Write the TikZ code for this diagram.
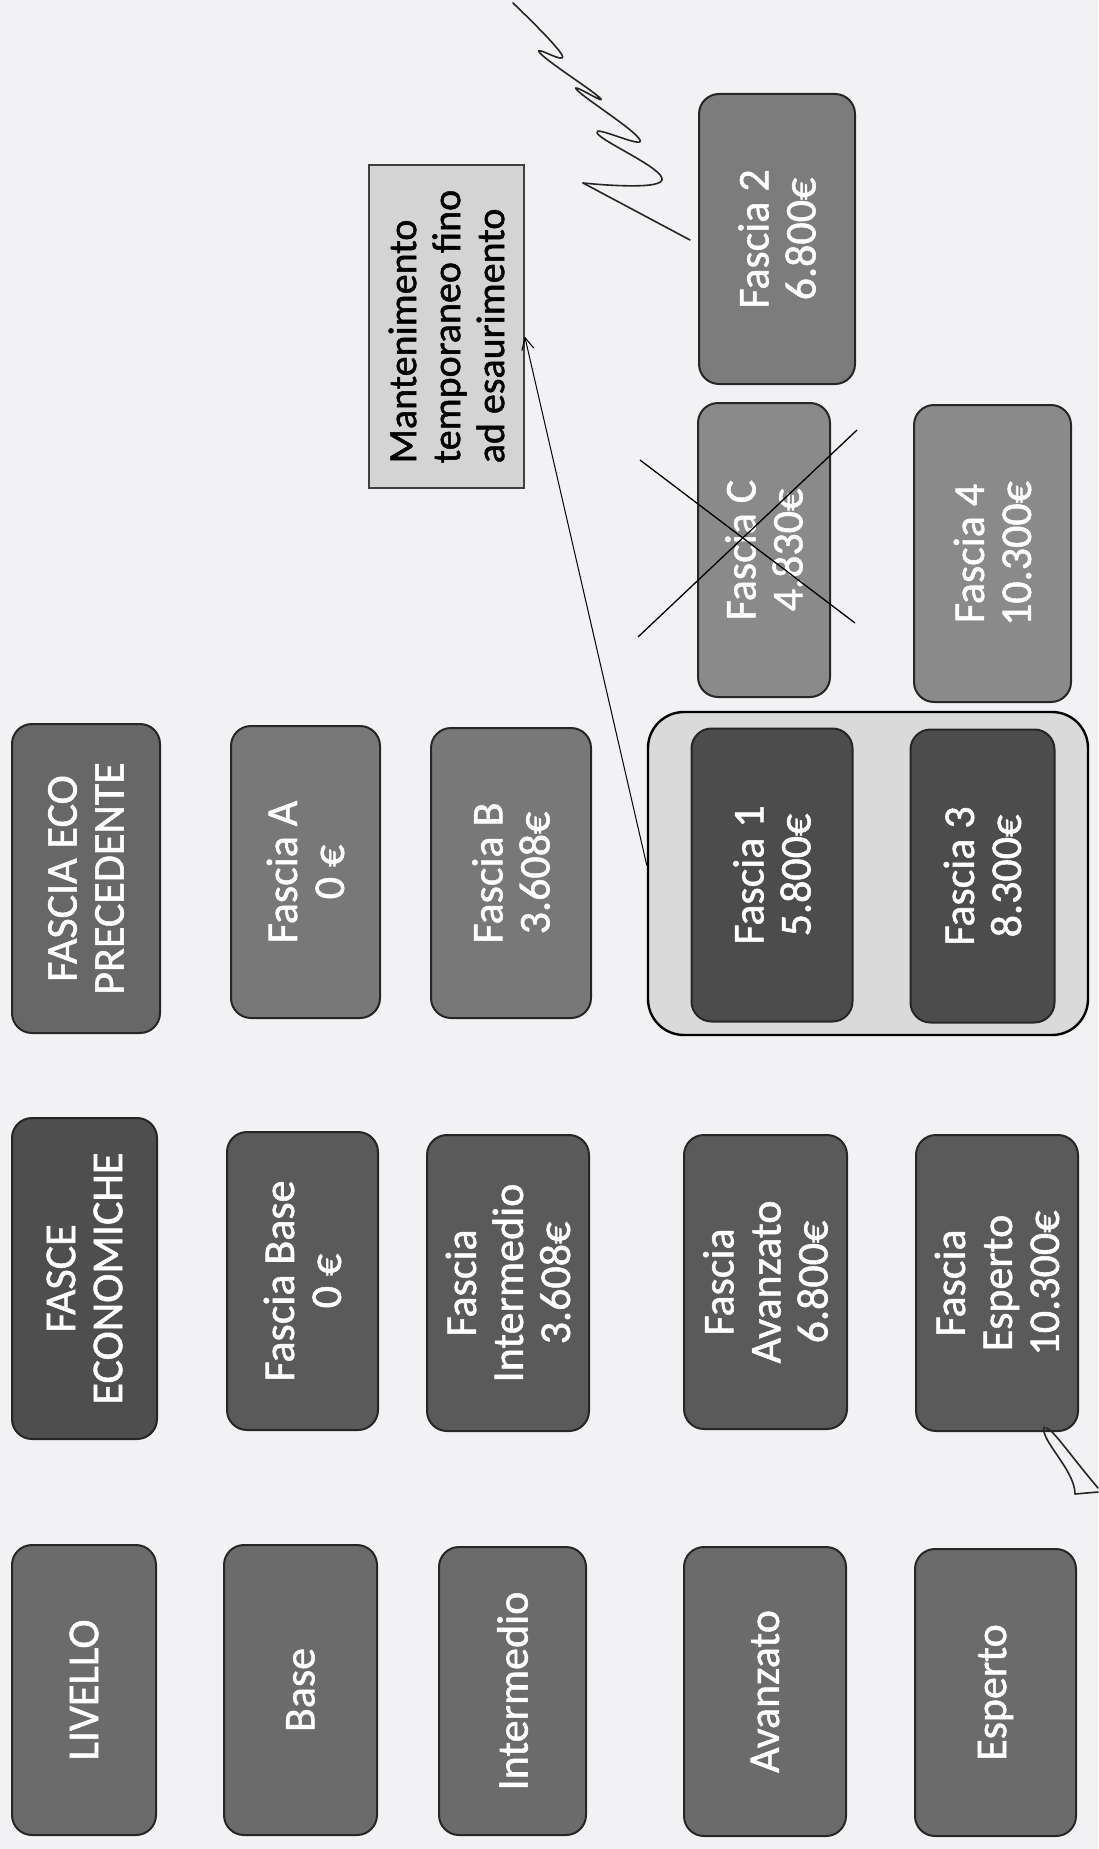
\documentclass[tikz,border=0pt]{standalone}
\usepackage{fontspec}
\setmainfont{Carlito}
\newfontfamily\carlito[RawFeature={embolden=1.2}]{Carlito}
\usetikzlibrary{arrows.meta,calc}
\definecolor{pagebg}{HTML}{F2F2F5}
\definecolor{lvgray}{HTML}{6B6B6B}
\definecolor{hdgray}{HTML}{4E4E4E}
\definecolor{fegray}{HTML}{5A5A5A}
\definecolor{fpgray}{HTML}{676767}
\definecolor{abgray}{HTML}{787878}
\definecolor{onegray}{HTML}{4C4C4C}
\definecolor{cgray}{HTML}{8A8A8A}
\definecolor{twogray}{HTML}{7C7C7C}
\definecolor{grpfill}{HTML}{DADADA}
\definecolor{mantfill}{HTML}{D4D4D4}
\newcommand\boxfont{\carlito\fontsize{44}{47}\selectfont}
\newcommand\mantfont{\carlito\fontsize{40}{44}\selectfont}
\tikzset{
  boxstyle/.style={draw=black!85, line width=2pt, rounded corners=20pt,
    rotate=90, text=white, align=center, font=\boxfont, inner sep=0pt},
  grpstyle/.style={draw=black, line width=2.4pt, rounded corners=36pt,
    fill=grpfill, inner sep=0pt},
  mantstyle/.style={draw=black!75, line width=1.5pt, fill=mantfill,
    rotate=90, text=black, align=left, font=\mantfont, inner sep=0pt},
  crossline/.style={line width=1.3pt, black},
  inkline/.style={line width=1.6pt, black!85, line cap=round, line join=round},
}
\begin{document}
\begin{tikzpicture}[x=1pt,y=-1pt]
\fill[pagebg] (0,0) rectangle (1098,1849);
\useasboundingbox (0,0) rectangle (1098,1849);

% LIVELLO row
\node[boxstyle, fill=lvgray, minimum width=290pt, minimum height=144pt] (lv) at (84,1690) {LIVELLO};
\node[boxstyle, fill=lvgray, minimum width=290pt, minimum height=153pt] (bs) at (300.5,1690) {Base};
\node[boxstyle, fill=lvgray, minimum width=288pt, minimum height=147pt] (im) at (512.5,1691) {Intermedio};
\node[boxstyle, fill=lvgray, minimum width=289pt, minimum height=162pt] (av) at (765,1691.5) {Avanzato};
\node[boxstyle, fill=lvgray, minimum width=287pt, minimum height=161pt] (es) at (995.5,1692.5) {Esperto};

% FASCE ECONOMICHE row
\node[boxstyle, fill=hdgray, minimum width=321pt, minimum height=145pt] (fe) at (84.5,1278.5) {FASCE\\ECONOMICHE};
\node[boxstyle, fill=fegray, minimum width=298pt, minimum height=151pt] (fbase) at (302.5,1281) {Fascia Base\\0 €};
\node[boxstyle, fill=fegray, minimum width=296pt, minimum height=162pt] (fint) at (508,1283) {Fascia\\Intermedio\\3.608€};
\node[boxstyle, fill=fegray, minimum width=294pt, minimum height=163pt] (favz) at (765.5,1282) {Fascia\\Avanzato\\6.800€};
\node[boxstyle, fill=fegray, minimum width=296pt, minimum height=162pt] (fesp) at (997,1283) {Fascia\\Esperto\\10.300€};

% FASCIA ECO PRECEDENTE row
\node[boxstyle, fill=fpgray, minimum width=309pt, minimum height=148pt] (fp) at (86,878.5) {FASCIA ECO\\PRECEDENTE};
\node[boxstyle, fill=abgray, minimum width=292pt, minimum height=149pt] (fA) at (305.5,872) {Fascia A\\0 €};
\node[boxstyle, fill=abgray, minimum width=290pt, minimum height=160pt] (fB) at (511,873) {Fascia B\\3.608€};

% group with Fascia 1 and 3
\node[grpstyle, minimum width=440pt, minimum height=323pt] (grp) at (868,873.5) {};
\node[boxstyle, fill=onegray, minimum width=293pt, minimum height=161pt] (f1) at (772,875) {Fascia 1\\5.800€};
\node[boxstyle, fill=onegray, minimum width=293pt, minimum height=144pt] (f3) at (982.5,876) {Fascia 3\\8.300€};

% upper boxes
\node[boxstyle, fill=cgray, minimum width=294pt, minimum height=132pt] (fC) at (764,550) {Fascia C\\4.830€};
\node[boxstyle, fill=cgray, minimum width=297pt, minimum height=157pt] (f4) at (992.5,553.5) {Fascia 4\\10.300€};
\node[boxstyle, fill=twogray, minimum width=290pt, minimum height=156pt] (f2) at (777,239) {Fascia 2\\6.800€};

% Mantenimento note
\node[mantstyle, minimum width=323pt, minimum height=155pt] (mant) at (446.5,326.5) {Mantenimento\\temporaneo fino\\ad esaurimento};

% arrow from group to note (mant is rotated: its south anchor is its right side)
\draw[line width=1pt, -{Straight Barb[length=12pt,width=12pt]}] ([yshift=8pt]grp.west) -- ([yshift=-10pt]mant.south);

% cross over Fascia C
\draw[crossline] ($(fC.center)+(-124,-90)$) -- ($(fC.center)+(91,73)$);
\draw[crossline] ($(fC.center)+(-126,87)$) -- ($(fC.center)+(93,-120)$);

% handwritten signature near Fascia 2
\draw[inkline] (690,240) -- (583,183);
\draw[inkline] plot[smooth, tension=0.8] coordinates {(583,183) (662,180) (597,133) (640,140) (577,90) (600,98) (540,53) (562,55) (513,3)};

% handwritten mark near Fascia Esperto
\draw[inkline] (1044,1427)
  .. controls (1040,1440) and (1075,1470) .. (1075,1494)
  -- (1098,1492);
\draw[inkline] (1046,1428)
  .. controls (1052,1428) and (1070,1455) .. (1098,1488);
\end{tikzpicture}
\end{document}
